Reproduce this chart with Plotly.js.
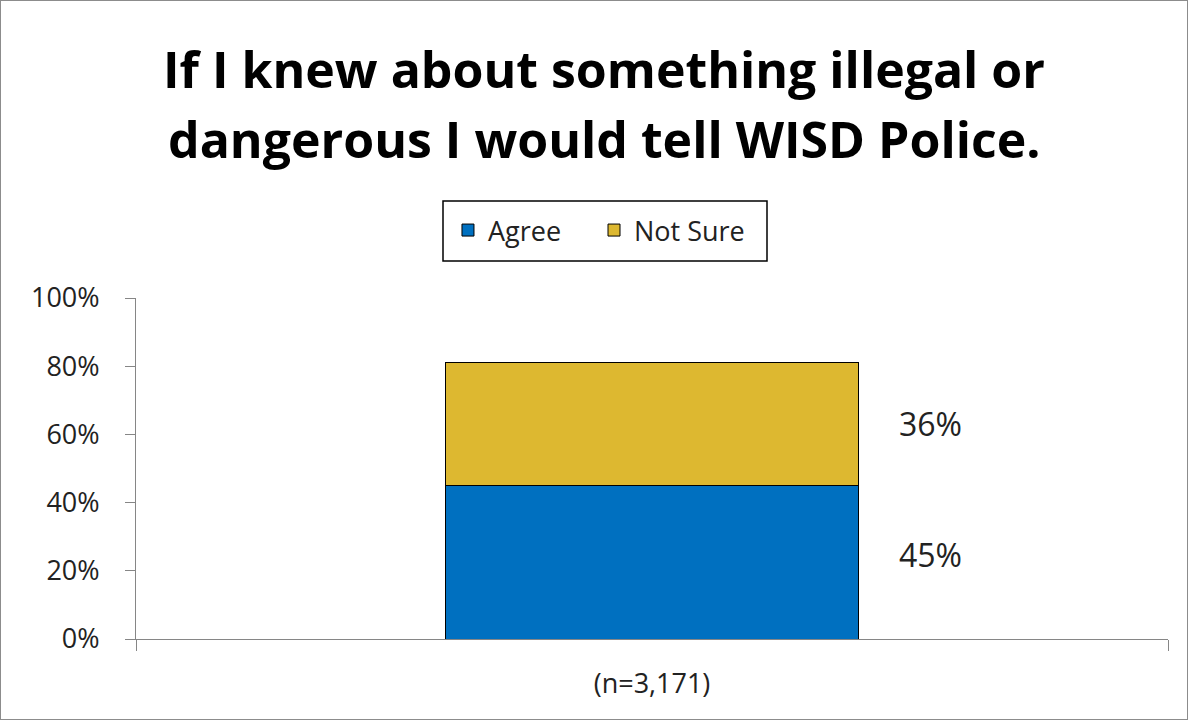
<!DOCTYPE html>
<html>
<head>
<meta charset="utf-8">
<script src="https://cdn.plot.ly/plotly-3.0.1.min.js"></script>
<style>
html,body{margin:0;padding:0;background:#fff;}
#chart{width:1186px;height:718px;border:1px solid #8c8c8c;}
</style>
</head>
<body>
<div id="chart"></div>
<script>
const categories = ["(n=3,171)"];
const seriesNames = ["Agree", "Not Sure"];
const agreeValues = [45];
const notSureValues = [36];
const seriesColors = ["#0070C0", "#DDB830"];
const yTickVals = [0, 20, 40, 60, 80, 100];
const yTickText = ["0%", "20%", "40%", "60%", "80%", "100%"];
const titleLines = ["If I knew about something illegal or", "dangerous I would tell WISD Police."];

const FONT = "'Open Sans', sans-serif";

const traces = [
  {type: "bar", name: seriesNames[0], x: categories, y: agreeValues, legend: "legend",
   marker: {color: seriesColors[0], line: {color: "#000", width: 1}}, width: 0.4, hoverinfo: "none"},
  {type: "bar", name: seriesNames[1], x: categories, y: notSureValues, legend: "legend2",
   marker: {color: seriesColors[1], line: {color: "#000", width: 1}}, width: 0.4, hoverinfo: "none"}
];

const annotations = [];
categories.forEach((c, i) => {
  const a = agreeValues[i], n = notSureValues[i];
  annotations.push({xref: "paper", x: 0.770, xanchor: "center", yref: "y", y: a / 2, text: a + "%",
    showarrow: false, font: {family: FONT, size: 32, color: "#222"}, yshift: 8});
  annotations.push({xref: "paper", x: 0.770, xanchor: "center", yref: "y", y: a + n / 2, text: n + "%",
    showarrow: false, font: {family: FONT, size: 32, color: "#222"}, yshift: 1});
});
const titleY = [1.673, 1.4677];
titleLines.forEach((t, i) => {
  annotations.push({xref: "paper", x: 0.4535, xanchor: "center", yref: "paper", y: titleY[i], yanchor: "middle",
    text: t, showarrow: false, font: {family: FONT, size: 50, color: "#000", weight: "bold"}});
});

const legendCommon = {orientation: "h", xanchor: "left", y: 1.2698, yanchor: "top",
  bgcolor: "rgba(0,0,0,0)", borderwidth: 0, font: {family: FONT, size: 27, color: "#222"}};

const layout = {
  width: 1186, height: 718,
  margin: {l: 135, r: 19, t: 297, b: 80},
  paper_bgcolor: "#fff", plot_bgcolor: "#fff",
  barmode: "stack",
  showlegend: true,
  legend: Object.assign({}, legendCommon, {x: 0.3023}),
  legend2: Object.assign({}, legendCommon, {x: 0.4438}),
  shapes: [{type: "rect", xref: "paper", yref: "paper",
    x0: (443 - 136) / 1032, x1: (767 - 136) / 1032, y0: (639 - 261) / 341, y1: (639 - 201) / 341,
    line: {color: "#000", width: 1.5}, fillcolor: "rgba(0,0,0,0)"}],
  xaxis: {type: "category", showgrid: false, showline: true, linecolor: "#868686", linewidth: 1,
    ticks: "outside", tickson: "boundaries", ticklen: 11, tickcolor: "#868686",
    tickfont: {family: FONT, size: 27, color: "#222"}, zeroline: false, ticklabelstandoff: 21, fixedrange: true},
  yaxis: {range: [0, 100], tickvals: yTickVals, ticktext: yTickText, showgrid: false,
    showline: true, linecolor: "#868686", linewidth: 1, ticks: "outside", ticklen: 10,
    tickcolor: "#868686", tickfont: {family: FONT, size: 27, color: "#222"}, zeroline: false,
    ticklabelstandoff: 20, fixedrange: true},
  annotations: annotations
};

Plotly.newPlot("chart", traces, layout, {displayModeBar: false, staticPlot: true});
</script>
</body>
</html>
